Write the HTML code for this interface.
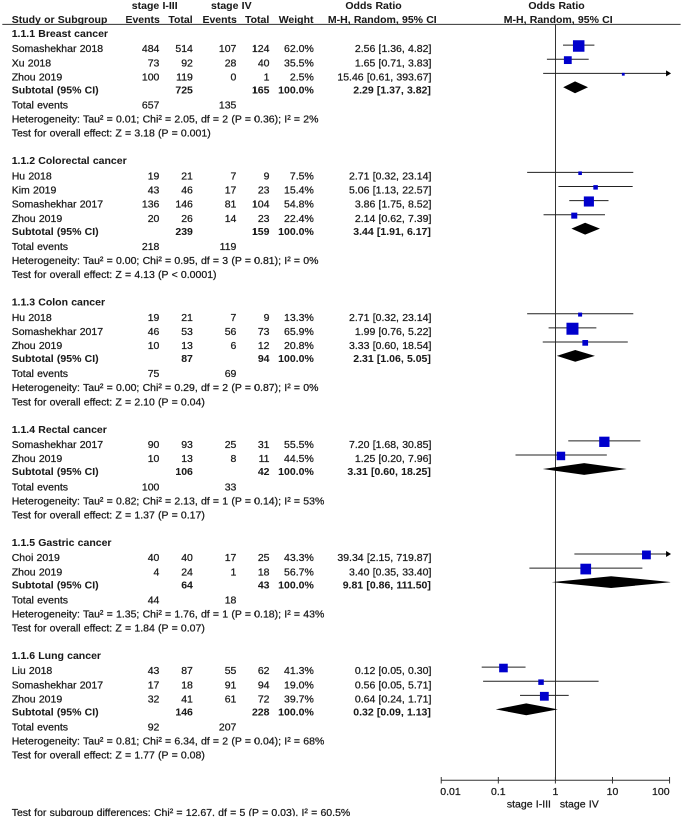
<!DOCTYPE html>
<html><head><meta charset="utf-8"><style>
html,body{margin:0;padding:0;background:#fff;}
body{width:685px;height:819px;overflow:hidden;}
#wrap{width:1370px;height:1638px;transform:scale(0.5);transform-origin:0 0;will-change:transform;}
svg{display:block;}
text{font-family:"Liberation Sans",sans-serif;font-size:10.5px;fill:#1a1a1a;word-spacing:0.3px;stroke:#1a1a1a;stroke-width:0.25px;}
text[font-weight=bold]{stroke-width:0.05px;}
</style></head><body>
<div id="wrap"><svg width="1370" height="1638" viewBox="0 0 685 819">
<line x1="2.3" y1="24.4" x2="680.6" y2="24.4" stroke="#333" stroke-width="1"/>
<line x1="555.5" y1="24.2" x2="555.5" y2="780.30" stroke="#333" stroke-width="1"/>
<line x1="441.24" y1="780.3" x2="669.56" y2="780.3" stroke="#333" stroke-width="1"/>
<line x1="441.24" y1="777.00" x2="441.24" y2="783.50" stroke="#333" stroke-width="1"/>
<line x1="498.32" y1="777.00" x2="498.32" y2="783.50" stroke="#333" stroke-width="1"/>
<line x1="555.40" y1="777.00" x2="555.40" y2="783.50" stroke="#333" stroke-width="1"/>
<line x1="612.48" y1="777.00" x2="612.48" y2="783.50" stroke="#333" stroke-width="1"/>
<line x1="669.56" y1="777.00" x2="669.56" y2="783.50" stroke="#333" stroke-width="1"/>
<line x1="563.02" y1="45.09" x2="594.39" y2="45.09" stroke="#222" stroke-width="1"/>
<rect x="572.95" y="40.24" width="11.50" height="11.50" fill="#0000cc"/>
<line x1="546.91" y1="59.22" x2="588.69" y2="59.22" stroke="#222" stroke-width="1"/>
<rect x="563.91" y="56.22" width="7.80" height="7.80" fill="#0000cc"/>
<line x1="543.15" y1="73.36" x2="666.56" y2="73.36" stroke="#222" stroke-width="1"/>
<path d="M666.06,70.36 L671.06,73.36 L666.06,76.36 Z" fill="#000"/>
<rect x="621.88" y="72.86" width="2.80" height="2.80" fill="#0000cc"/>
<path d="M563.20,87.30 L575.04,81.40 L588.02,87.30 L575.04,93.20 Z" fill="#000"/>
<line x1="527.15" y1="172.32" x2="633.28" y2="172.32" stroke="#222" stroke-width="1"/>
<rect x="578.31" y="171.42" width="3.60" height="3.60" fill="#0000cc"/>
<line x1="558.43" y1="186.46" x2="632.66" y2="186.46" stroke="#222" stroke-width="1"/>
<rect x="593.34" y="185.11" width="4.50" height="4.50" fill="#0000cc"/>
<line x1="569.27" y1="200.59" x2="608.51" y2="200.59" stroke="#222" stroke-width="1"/>
<rect x="583.83" y="196.44" width="10.10" height="10.10" fill="#0000cc"/>
<line x1="543.55" y1="214.73" x2="604.98" y2="214.73" stroke="#222" stroke-width="1"/>
<rect x="571.26" y="212.63" width="6.00" height="6.00" fill="#0000cc"/>
<path d="M571.44,228.67 L585.13,222.77 L599.91,228.67 L585.13,234.57 Z" fill="#000"/>
<line x1="527.15" y1="313.69" x2="633.28" y2="313.69" stroke="#222" stroke-width="1"/>
<rect x="578.11" y="312.59" width="4.00" height="4.00" fill="#0000cc"/>
<line x1="548.60" y1="327.83" x2="596.36" y2="327.83" stroke="#222" stroke-width="1"/>
<rect x="566.46" y="322.73" width="12.00" height="12.00" fill="#0000cc"/>
<line x1="542.74" y1="341.96" x2="627.78" y2="341.96" stroke="#222" stroke-width="1"/>
<rect x="582.37" y="340.01" width="5.70" height="5.70" fill="#0000cc"/>
<path d="M556.84,355.90 L575.25,350.00 L594.94,355.90 L575.25,361.80 Z" fill="#000"/>
<line x1="568.26" y1="440.92" x2="640.41" y2="440.92" stroke="#222" stroke-width="1"/>
<rect x="599.19" y="436.67" width="10.30" height="10.30" fill="#0000cc"/>
<line x1="515.50" y1="455.06" x2="606.82" y2="455.06" stroke="#222" stroke-width="1"/>
<rect x="556.68" y="451.71" width="8.50" height="8.50" fill="#0000cc"/>
<path d="M542.74,469.00 L584.17,463.10 L626.79,469.00 L584.17,474.90 Z" fill="#000"/>
<line x1="574.38" y1="554.02" x2="666.56" y2="554.02" stroke="#222" stroke-width="1"/>
<path d="M666.06,551.02 L671.06,554.02 L666.06,557.02 Z" fill="#000"/>
<rect x="642.03" y="550.52" width="8.80" height="8.80" fill="#0000cc"/>
<line x1="529.38" y1="568.16" x2="642.38" y2="568.16" stroke="#222" stroke-width="1"/>
<rect x="580.39" y="563.71" width="10.70" height="10.70" fill="#0000cc"/>
<path d="M551.66,582.09 L611.10,576.19 L670.26,581.96 L670.26,582.23 L611.10,587.99 Z" fill="#000"/>
<line x1="481.70" y1="667.12" x2="525.55" y2="667.12" stroke="#222" stroke-width="1"/>
<rect x="499.15" y="663.72" width="8.60" height="8.60" fill="#0000cc"/>
<line x1="483.10" y1="681.25" x2="598.59" y2="681.25" stroke="#222" stroke-width="1"/>
<rect x="538.28" y="679.40" width="5.50" height="5.50" fill="#0000cc"/>
<line x1="520.02" y1="695.39" x2="568.70" y2="695.39" stroke="#222" stroke-width="1"/>
<rect x="539.94" y="691.89" width="8.80" height="8.80" fill="#0000cc"/>
<path d="M495.71,709.33 L526.25,703.43 L557.83,709.33 L526.25,715.23 Z" fill="#000"/>
<text x="131.80" y="9.00" font-weight="bold">stage I-III</text>
<text x="211.00" y="9.00" font-weight="bold">stage IV</text>
<text x="345.40" y="9.00" font-weight="bold">Odds Ratio</text>
<text x="528.40" y="9.00" font-weight="bold">Odds Ratio</text>
<text x="11.70" y="23.00" font-weight="bold">Study or Subgroup</text>
<text x="159.90" y="23.00" text-anchor="end" font-weight="bold">Events</text>
<text x="192.70" y="23.00" text-anchor="end" font-weight="bold">Total</text>
<text x="236.90" y="23.00" text-anchor="end" font-weight="bold">Events</text>
<text x="269.30" y="23.00" text-anchor="end" font-weight="bold">Total</text>
<text x="313.50" y="23.00" text-anchor="end" font-weight="bold">Weight</text>
<text x="327.90" y="23.00" font-weight="bold">M-H, Random, 95% CI</text>
<text x="503.80" y="23.00" font-weight="bold">M-H, Random, 95% CI</text>
<text x="11.70" y="36.95" font-weight="bold">1.1.1 Breast cancer</text>
<text x="11.70" y="52.19">Somashekhar 2018</text>
<text x="159.40" y="52.19" text-anchor="end">484</text>
<text x="192.90" y="52.19" text-anchor="end">514</text>
<text x="236.40" y="52.19" text-anchor="end">107</text>
<text x="269.50" y="52.19" text-anchor="end">124</text>
<text x="313.80" y="52.19" text-anchor="end">62.0%</text>
<text x="431.40" y="52.19" text-anchor="end">2.56 [1.36, 4.82]</text>
<text x="11.70" y="66.32">Xu 2018</text>
<text x="159.40" y="66.32" text-anchor="end">73</text>
<text x="192.90" y="66.32" text-anchor="end">92</text>
<text x="236.40" y="66.32" text-anchor="end">28</text>
<text x="269.50" y="66.32" text-anchor="end">40</text>
<text x="313.80" y="66.32" text-anchor="end">35.5%</text>
<text x="431.40" y="66.32" text-anchor="end">1.65 [0.71, 3.83]</text>
<text x="11.70" y="80.46">Zhou 2019</text>
<text x="159.40" y="80.46" text-anchor="end">100</text>
<text x="192.90" y="80.46" text-anchor="end">119</text>
<text x="236.40" y="80.46" text-anchor="end">0</text>
<text x="269.50" y="80.46" text-anchor="end">1</text>
<text x="313.80" y="80.46" text-anchor="end">2.5%</text>
<text x="431.40" y="80.46" text-anchor="end">15.46 [0.61, 393.67]</text>
<text x="11.70" y="93.50" font-weight="bold">Subtotal (95% CI)</text>
<text x="192.90" y="93.50" text-anchor="end" font-weight="bold">725</text>
<text x="269.50" y="93.50" text-anchor="end" font-weight="bold">165</text>
<text x="313.80" y="93.50" text-anchor="end" font-weight="bold">100.0%</text>
<text x="430.90" y="93.50" text-anchor="end" font-weight="bold">2.29 [1.37, 3.82]</text>
<text x="11.70" y="108.58">Total events</text>
<text x="159.40" y="108.58" text-anchor="end">657</text>
<text x="236.40" y="108.58" text-anchor="end">135</text>
<text x="11.70" y="122.62">Heterogeneity: Tau² = 0.01; Chi² = 2.05, df = 2 (P = 0.36); I² = 2%</text>
<text x="11.70" y="136.68">Test for overall effect: Z = 3.18 (P = 0.001)</text>
<text x="11.70" y="164.18" font-weight="bold">1.1.2 Colorectal cancer</text>
<text x="11.70" y="179.42">Hu 2018</text>
<text x="159.40" y="179.42" text-anchor="end">19</text>
<text x="192.90" y="179.42" text-anchor="end">21</text>
<text x="236.40" y="179.42" text-anchor="end">7</text>
<text x="269.50" y="179.42" text-anchor="end">9</text>
<text x="313.80" y="179.42" text-anchor="end">7.5%</text>
<text x="431.40" y="179.42" text-anchor="end">2.71 [0.32, 23.14]</text>
<text x="11.70" y="193.56">Kim 2019</text>
<text x="159.40" y="193.56" text-anchor="end">43</text>
<text x="192.90" y="193.56" text-anchor="end">46</text>
<text x="236.40" y="193.56" text-anchor="end">17</text>
<text x="269.50" y="193.56" text-anchor="end">23</text>
<text x="313.80" y="193.56" text-anchor="end">15.4%</text>
<text x="431.40" y="193.56" text-anchor="end">5.06 [1.13, 22.57]</text>
<text x="11.70" y="207.69">Somashekhar 2017</text>
<text x="159.40" y="207.69" text-anchor="end">136</text>
<text x="192.90" y="207.69" text-anchor="end">146</text>
<text x="236.40" y="207.69" text-anchor="end">81</text>
<text x="269.50" y="207.69" text-anchor="end">104</text>
<text x="313.80" y="207.69" text-anchor="end">54.8%</text>
<text x="431.40" y="207.69" text-anchor="end">3.86 [1.75, 8.52]</text>
<text x="11.70" y="221.83">Zhou 2019</text>
<text x="159.40" y="221.83" text-anchor="end">20</text>
<text x="192.90" y="221.83" text-anchor="end">26</text>
<text x="236.40" y="221.83" text-anchor="end">14</text>
<text x="269.50" y="221.83" text-anchor="end">23</text>
<text x="313.80" y="221.83" text-anchor="end">22.4%</text>
<text x="431.40" y="221.83" text-anchor="end">2.14 [0.62, 7.39]</text>
<text x="11.70" y="234.87" font-weight="bold">Subtotal (95% CI)</text>
<text x="192.90" y="234.87" text-anchor="end" font-weight="bold">239</text>
<text x="269.50" y="234.87" text-anchor="end" font-weight="bold">159</text>
<text x="313.80" y="234.87" text-anchor="end" font-weight="bold">100.0%</text>
<text x="430.90" y="234.87" text-anchor="end" font-weight="bold">3.44 [1.91, 6.17]</text>
<text x="11.70" y="249.96">Total events</text>
<text x="159.40" y="249.96" text-anchor="end">218</text>
<text x="236.40" y="249.96" text-anchor="end">119</text>
<text x="11.70" y="263.99">Heterogeneity: Tau² = 0.00; Chi² = 0.95, df = 3 (P = 0.81); I² = 0%</text>
<text x="11.70" y="278.05">Test for overall effect: Z = 4.13 (P &lt; 0.0001)</text>
<text x="11.70" y="305.55" font-weight="bold">1.1.3 Colon cancer</text>
<text x="11.70" y="320.79">Hu 2018</text>
<text x="159.40" y="320.79" text-anchor="end">19</text>
<text x="192.90" y="320.79" text-anchor="end">21</text>
<text x="236.40" y="320.79" text-anchor="end">7</text>
<text x="269.50" y="320.79" text-anchor="end">9</text>
<text x="313.80" y="320.79" text-anchor="end">13.3%</text>
<text x="431.40" y="320.79" text-anchor="end">2.71 [0.32, 23.14]</text>
<text x="11.70" y="334.93">Somashekhar 2017</text>
<text x="159.40" y="334.93" text-anchor="end">46</text>
<text x="192.90" y="334.93" text-anchor="end">53</text>
<text x="236.40" y="334.93" text-anchor="end">56</text>
<text x="269.50" y="334.93" text-anchor="end">73</text>
<text x="313.80" y="334.93" text-anchor="end">65.9%</text>
<text x="431.40" y="334.93" text-anchor="end">1.99 [0.76, 5.22]</text>
<text x="11.70" y="349.06">Zhou 2019</text>
<text x="159.40" y="349.06" text-anchor="end">10</text>
<text x="192.90" y="349.06" text-anchor="end">13</text>
<text x="236.40" y="349.06" text-anchor="end">6</text>
<text x="269.50" y="349.06" text-anchor="end">12</text>
<text x="313.80" y="349.06" text-anchor="end">20.8%</text>
<text x="431.40" y="349.06" text-anchor="end">3.33 [0.60, 18.54]</text>
<text x="11.70" y="362.10" font-weight="bold">Subtotal (95% CI)</text>
<text x="192.90" y="362.10" text-anchor="end" font-weight="bold">87</text>
<text x="269.50" y="362.10" text-anchor="end" font-weight="bold">94</text>
<text x="313.80" y="362.10" text-anchor="end" font-weight="bold">100.0%</text>
<text x="430.90" y="362.10" text-anchor="end" font-weight="bold">2.31 [1.06, 5.05]</text>
<text x="11.70" y="377.19">Total events</text>
<text x="159.40" y="377.19" text-anchor="end">75</text>
<text x="236.40" y="377.19" text-anchor="end">69</text>
<text x="11.70" y="391.23">Heterogeneity: Tau² = 0.00; Chi² = 0.29, df = 2 (P = 0.87); I² = 0%</text>
<text x="11.70" y="405.28">Test for overall effect: Z = 2.10 (P = 0.04)</text>
<text x="11.70" y="432.79" font-weight="bold">1.1.4 Rectal cancer</text>
<text x="11.70" y="448.02">Somashekhar 2017</text>
<text x="159.40" y="448.02" text-anchor="end">90</text>
<text x="192.90" y="448.02" text-anchor="end">93</text>
<text x="236.40" y="448.02" text-anchor="end">25</text>
<text x="269.50" y="448.02" text-anchor="end">31</text>
<text x="313.80" y="448.02" text-anchor="end">55.5%</text>
<text x="431.40" y="448.02" text-anchor="end">7.20 [1.68, 30.85]</text>
<text x="11.70" y="462.16">Zhou 2019</text>
<text x="159.40" y="462.16" text-anchor="end">10</text>
<text x="192.90" y="462.16" text-anchor="end">13</text>
<text x="236.40" y="462.16" text-anchor="end">8</text>
<text x="269.50" y="462.16" text-anchor="end">11</text>
<text x="313.80" y="462.16" text-anchor="end">44.5%</text>
<text x="431.40" y="462.16" text-anchor="end">1.25 [0.20, 7.96]</text>
<text x="11.70" y="475.20" font-weight="bold">Subtotal (95% CI)</text>
<text x="192.90" y="475.20" text-anchor="end" font-weight="bold">106</text>
<text x="269.50" y="475.20" text-anchor="end" font-weight="bold">42</text>
<text x="313.80" y="475.20" text-anchor="end" font-weight="bold">100.0%</text>
<text x="430.90" y="475.20" text-anchor="end" font-weight="bold">3.31 [0.60, 18.25]</text>
<text x="11.70" y="490.28">Total events</text>
<text x="159.40" y="490.28" text-anchor="end">100</text>
<text x="236.40" y="490.28" text-anchor="end">33</text>
<text x="11.70" y="504.32">Heterogeneity: Tau² = 0.82; Chi² = 2.13, df = 1 (P = 0.14); I² = 53%</text>
<text x="11.70" y="518.38">Test for overall effect: Z = 1.37 (P = 0.17)</text>
<text x="11.70" y="545.88" font-weight="bold">1.1.5 Gastric cancer</text>
<text x="11.70" y="561.12">Choi 2019</text>
<text x="159.40" y="561.12" text-anchor="end">40</text>
<text x="192.90" y="561.12" text-anchor="end">40</text>
<text x="236.40" y="561.12" text-anchor="end">17</text>
<text x="269.50" y="561.12" text-anchor="end">25</text>
<text x="313.80" y="561.12" text-anchor="end">43.3%</text>
<text x="431.40" y="561.12" text-anchor="end">39.34 [2.15, 719.87]</text>
<text x="11.70" y="575.26">Zhou 2019</text>
<text x="159.40" y="575.26" text-anchor="end">4</text>
<text x="192.90" y="575.26" text-anchor="end">24</text>
<text x="236.40" y="575.26" text-anchor="end">1</text>
<text x="269.50" y="575.26" text-anchor="end">18</text>
<text x="313.80" y="575.26" text-anchor="end">56.7%</text>
<text x="431.40" y="575.26" text-anchor="end">3.40 [0.35, 33.40]</text>
<text x="11.70" y="588.29" font-weight="bold">Subtotal (95% CI)</text>
<text x="192.90" y="588.29" text-anchor="end" font-weight="bold">64</text>
<text x="269.50" y="588.29" text-anchor="end" font-weight="bold">43</text>
<text x="313.80" y="588.29" text-anchor="end" font-weight="bold">100.0%</text>
<text x="430.90" y="588.29" text-anchor="end" font-weight="bold">9.81 [0.86, 111.50]</text>
<text x="11.70" y="603.38">Total events</text>
<text x="159.40" y="603.38" text-anchor="end">44</text>
<text x="236.40" y="603.38" text-anchor="end">18</text>
<text x="11.70" y="617.42">Heterogeneity: Tau² = 1.35; Chi² = 1.76, df = 1 (P = 0.18); I² = 43%</text>
<text x="11.70" y="631.47">Test for overall effect: Z = 1.84 (P = 0.07)</text>
<text x="11.70" y="658.98" font-weight="bold">1.1.6 Lung cancer</text>
<text x="11.70" y="674.21">Liu 2018</text>
<text x="159.40" y="674.21" text-anchor="end">43</text>
<text x="192.90" y="674.21" text-anchor="end">87</text>
<text x="236.40" y="674.21" text-anchor="end">55</text>
<text x="269.50" y="674.21" text-anchor="end">62</text>
<text x="313.80" y="674.21" text-anchor="end">41.3%</text>
<text x="431.40" y="674.21" text-anchor="end">0.12 [0.05, 0.30]</text>
<text x="11.70" y="688.35">Somashekhar 2017</text>
<text x="159.40" y="688.35" text-anchor="end">17</text>
<text x="192.90" y="688.35" text-anchor="end">18</text>
<text x="236.40" y="688.35" text-anchor="end">91</text>
<text x="269.50" y="688.35" text-anchor="end">94</text>
<text x="313.80" y="688.35" text-anchor="end">19.0%</text>
<text x="431.40" y="688.35" text-anchor="end">0.56 [0.05, 5.71]</text>
<text x="11.70" y="702.49">Zhou 2019</text>
<text x="159.40" y="702.49" text-anchor="end">32</text>
<text x="192.90" y="702.49" text-anchor="end">41</text>
<text x="236.40" y="702.49" text-anchor="end">61</text>
<text x="269.50" y="702.49" text-anchor="end">72</text>
<text x="313.80" y="702.49" text-anchor="end">39.7%</text>
<text x="431.40" y="702.49" text-anchor="end">0.64 [0.24, 1.71]</text>
<text x="11.70" y="715.53" font-weight="bold">Subtotal (95% CI)</text>
<text x="192.90" y="715.53" text-anchor="end" font-weight="bold">146</text>
<text x="269.50" y="715.53" text-anchor="end" font-weight="bold">228</text>
<text x="313.80" y="715.53" text-anchor="end" font-weight="bold">100.0%</text>
<text x="430.90" y="715.53" text-anchor="end" font-weight="bold">0.32 [0.09, 1.13]</text>
<text x="11.70" y="730.61">Total events</text>
<text x="159.40" y="730.61" text-anchor="end">92</text>
<text x="236.40" y="730.61" text-anchor="end">207</text>
<text x="11.70" y="744.65">Heterogeneity: Tau² = 0.81; Chi² = 6.34, df = 2 (P = 0.04); I² = 68%</text>
<text x="11.70" y="758.71">Test for overall effect: Z = 1.77 (P = 0.08)</text>
<text x="11.70" y="816.00">Test for subgroup differences: Chi² = 12.67, df = 5 (P = 0.03), I² = 60.5%</text>
<text x="440.24" y="795.10">0.01</text>
<text x="498.32" y="795.10" text-anchor="middle">0.1</text>
<text x="555.40" y="795.10" text-anchor="middle">1</text>
<text x="612.48" y="795.10" text-anchor="middle">10</text>
<text x="669.56" y="795.10" text-anchor="end">100</text>
<text x="506.90" y="807.60">stage I-III</text>
<text x="559.90" y="807.60">stage IV</text>
<rect x="0" y="816.2" width="685" height="3" fill="#fff"/>
</svg></div>
</body></html>
